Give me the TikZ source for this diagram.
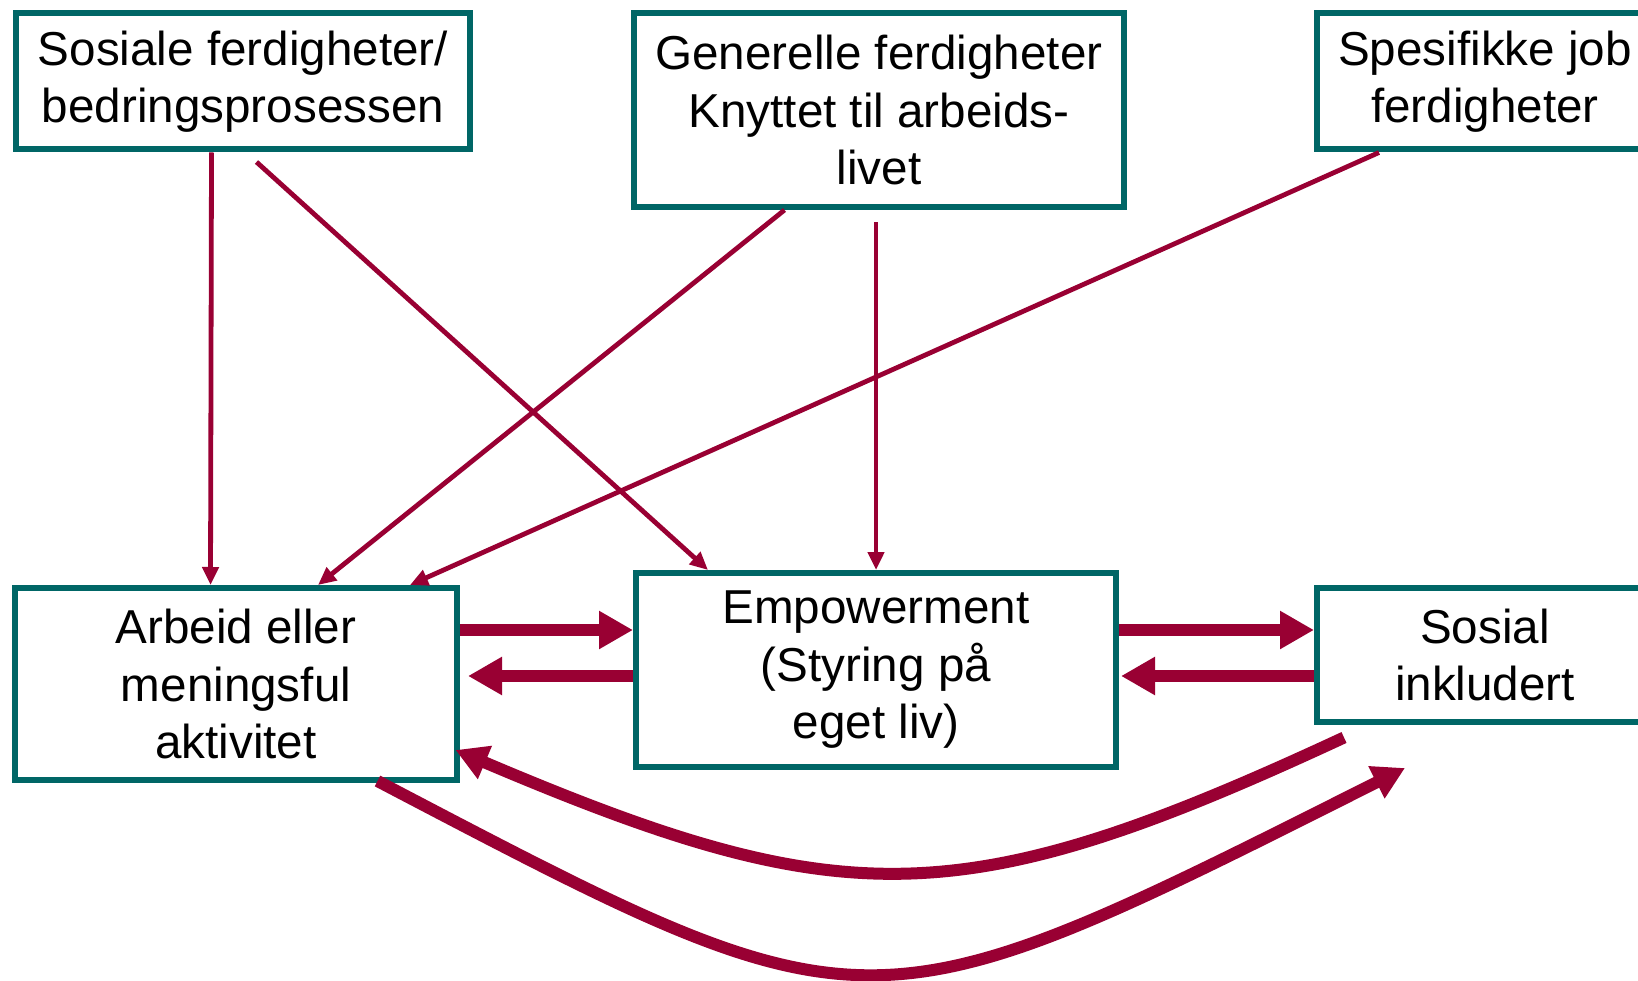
\documentclass[tikz,border=0pt]{standalone}
\usepackage{fontspec}
\setmainfont{Liberation Sans}
\usetikzlibrary{arrows.meta,calc}
\definecolor{boxteal}{HTML}{006666}
\definecolor{arrred}{HTML}{990033}
\begin{document}
\begin{tikzpicture}[x=1pt,y=-1pt,
  box/.style={draw=boxteal,line width=6pt,fill=white,align=center,inner sep=0pt,text=black,font=\fontsize{47.6}{57.5}\selectfont},
  thinarr/.style={draw=arrred,line width=4.8pt,-{Triangle[length=18pt,width=16pt]}},
  fatarr/.style={draw=arrred,line width=12pt,-{Triangle[length=34pt,width=36pt]}},
  curvearr/.style={draw=arrred,line width=12pt,-{Triangle[length=32pt,width=34pt]}}]
\useasboundingbox (0,0) rectangle (1638,981);
\clip (0,0) rectangle (1638,981);
\fill[white] (0,0) rectangle (1638,981);
% boxes
\node[box,minimum width=454pt,minimum height=136pt] (b1) at (243,81.5) {Sosiale ferdigheter/\\bedringsprosessen};
\node[box,minimum width=490pt,minimum height=194pt] (b2) at (879,110) {Generelle ferdigheter\\Knyttet til arbeids-\\livet};
\node[box,minimum width=336pt,minimum height=136pt] (b3) at (1485,81.5) {Spesifikke job\\ferdigheter};
\node[box,minimum width=442pt,minimum height=192pt] (b4) at (236,684) {Arbeid eller\\meningsful\\aktivitet};
\node[box,minimum width=480pt,minimum height=194pt] (b5) at (876,670) {Empowerment\\(Styring på\\eget liv)};
\node[box,minimum width=336pt,minimum height=134pt] (b6) at (1485,655) {Sosial\\inkludert};
% thin arrows from the top boxes
\draw[thinarr] ([xshift=198.5pt]b1.south west) -- ([xshift=198.5pt]b4.north west);
\draw[thinarr] ([xshift=243.5pt,yshift=-9.5pt]b1.south west) -- ([xshift=75pt]b5.north west);
\draw[thinarr] ([xshift=153.5pt]b2.south west) -- ([xshift=306pt]b4.north west);
\coordinate (v4) at (b5.north |- b2.south);
\draw[thinarr] ([yshift=-12.5pt]v4) -- (b5.north);
\draw[thinarr] ([xshift=65pt]b3.south west) -- ([xshift=398pt]b4.north west);
% thick horizontal arrows
\coordinate (r1) at ([yshift=40pt]b5.west);
\coordinate (r1s) at (r1 -| b4.east);
\draw[fatarr] (r1s) -- (r1);
\coordinate (r2) at ([yshift=-6pt]b5.west);
\coordinate (r2e) at (r2 -| b4.east);
\draw[fatarr] (r2) -- ([xshift=8pt]r2e);
\coordinate (r3) at ([yshift=25pt]b6.west);
\coordinate (r3s) at (r3 -| b5.east);
\draw[fatarr] (r3s) -- (r3);
\coordinate (r4) at ([yshift=-21pt]b6.west);
\coordinate (r4e) at (r4 -| b5.east);
\draw[fatarr] (r4) -- ([xshift=2pt]r4e);
% curved arrows
\draw[curvearr] ([xshift=30pt,yshift=-12.5pt]b6.south west) .. controls (962,915) and (844,915) .. ([xshift=-4.5pt,yshift=-66pt]b4.east);
\draw[curvearr] ([xshift=365.5pt,yshift=2pt]b4.south west) .. controls (872,1040) and (864,1040) .. ([xshift=91pt,yshift=-43pt]b6.south west);
\end{tikzpicture}
\end{document}
